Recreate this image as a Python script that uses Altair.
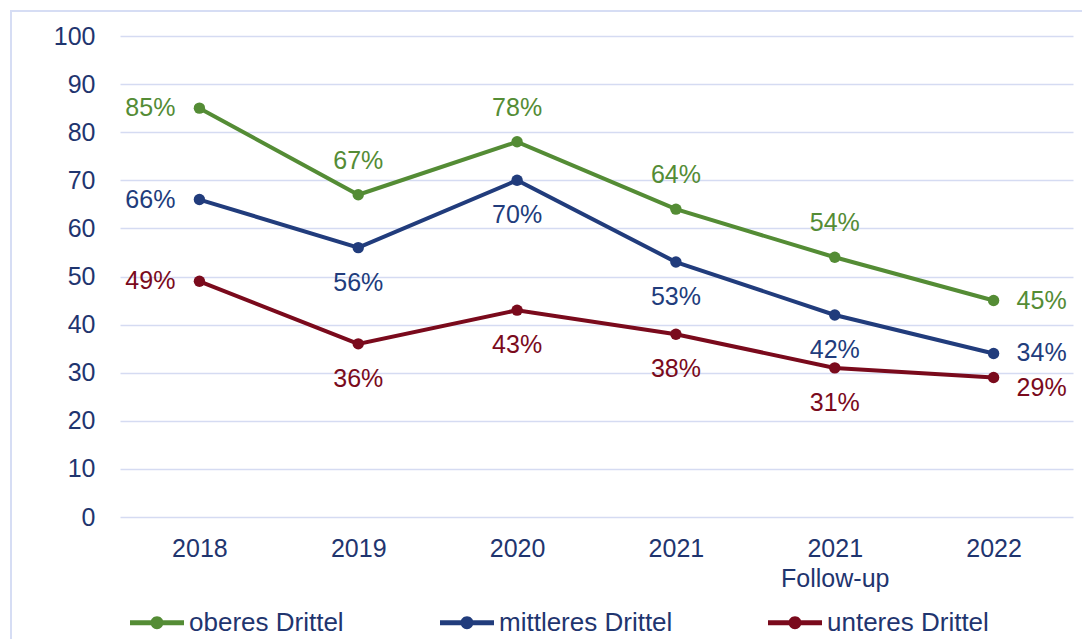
import altair as alt
import pandas as pd

categories = ["2018", "2019", "2020", "2021", "2021 Follow-up", "2022"]
series = ["oberes Drittel", "mittleres Drittel", "unteres Drittel"]
oberes = [85, 67, 78, 64, 54, 45]
mittleres = [66, 56, 70, 53, 42, 34]
unteres = [49, 36, 43, 38, 31, 29]
colors = ["#548C35", "#213C7C", "#7A0A1C"]
y_ticks = list(range(0, 101, 10))

rows = []
for name, vals in zip(series, [oberes, mittleres, unteres]):
    for i, (c, v) in enumerate(zip(categories, vals)):
        rows.append({"Jahr": c, "Gruppe": name, "Wert": v, "idx": i,
                     "Label": f"{v}%"})
df = pd.DataFrame(rows)

TEXT = "#1F356F"
FONT = "Liberation Sans"

x_enc = alt.X("Jahr:N", sort=categories, scale=alt.Scale(type="point", padding=0.5),
              axis=alt.Axis(title=None, labelAngle=0, labelFontSize=25, labelColor=TEXT,
                            labelPadding=19, labelLineHeight=30, ticks=False, domain=False,
                            grid=False,
                            labelExpr="datum.label == '2021 Follow-up' ? ['2021', 'Follow-up'] : datum.label"))
y_enc = alt.Y("Wert:Q", scale=alt.Scale(domain=[0, 100], nice=False),
              axis=alt.Axis(title=None, values=y_ticks, labelFontSize=25, labelColor=TEXT,
                            labelPadding=25, ticks=False, domain=False, grid=True,
                            gridColor="#D5DBF2", gridWidth=1.6))
color_scale = alt.Scale(domain=series, range=colors)

base = alt.Chart(df)

lines = base.mark_line(strokeWidth=4).encode(
    x=x_enc, y=y_enc,
    color=alt.Color("Gruppe:N", scale=color_scale, legend=None),
)

# legend symbol: line with dot; drawn twice as wide as the symbol box
legend_path = ("M-2,-0.185H2V0.185H-2Z "
               "M-0.48,0A0.48,0.48,0,1,1,0.48,0A0.48,0.48,0,1,1,-0.48,0Z")

points = base.mark_point(filled=True, size=130, opacity=1).encode(
    x=alt.X("Jahr:N", sort=categories),
    y="Wert:Q",
    color=alt.Color("Gruppe:N", scale=color_scale, sort=series,
                    legend=alt.Legend(title=None, orient="none", legendX=23.5, legendY=573,
                                      direction="horizontal", columns=3, columnPadding=95,
                                      symbolType=legend_path, symbolSize=729,
                                      symbolStrokeWidth=0, symbolOpacity=1,
                                      labelFontSize=26, labelColor=TEXT, labelOffset=18.5,
                                      labelLimit=400, labelFont=FONT)),
)

def text_layer(flt, **kw):
    return base.transform_filter(flt).mark_text(fontSize=25, font=FONT, **kw).encode(
        x=alt.X("Jahr:N", sort=categories),
        y="Wert:Q",
        text="Label:N",
        color=alt.Color("Gruppe:N", scale=color_scale, legend=None),
    )

left = text_layer("datum.idx == 0", align="right", baseline="middle", dx=-24)
right = text_layer("datum.idx == 5 && datum.Gruppe != 'unteres Drittel'",
                   align="left", baseline="middle", dx=23)
right_red = text_layer("datum.idx == 5 && datum.Gruppe == 'unteres Drittel'",
                       align="left", baseline="middle", dx=23, dy=10)
above = text_layer("datum.idx > 0 && datum.idx < 5 && datum.Gruppe == 'oberes Drittel'",
                   align="center", baseline="middle", dy=-34)
below = text_layer("datum.idx > 0 && datum.idx < 5 && datum.Gruppe != 'oberes Drittel'",
                   align="center", baseline="middle", dy=35)

frame = alt.Chart(pd.DataFrame({"a": [0]})).mark_rect(
    fill=None, stroke="#D6DDF4", strokeWidth=2
).encode(x=alt.value(-109), x2=alt.value(1100), y=alt.value(-25), y2=alt.value(700))

chart = alt.layer(frame, lines, points, left, right, right_red, above, below).resolve_legend(
    color="independent"
).properties(
    width=953, height=481,
    autosize=alt.AutoSizeParams(type="none"),
    padding={"left": 112, "top": 28, "right": 9, "bottom": 122},
).configure(font=FONT, background="white").configure_view(stroke=None)

chart.save("out.html", embed_options={"renderer": "svg", "actions": False})
